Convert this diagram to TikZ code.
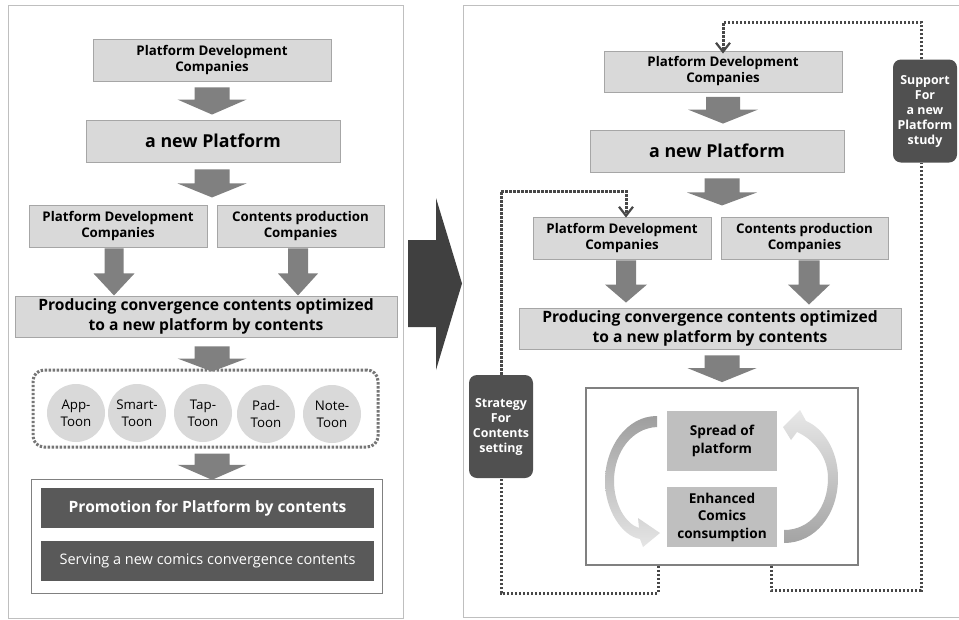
\documentclass[tikz,border=0pt]{standalone}
\usepackage{fontspec}
\setmainfont{Open Sans}
\usetikzlibrary{arrows.meta,calc}

\definecolor{boxfill}{HTML}{D9D9D9}
\definecolor{boxedge}{HTML}{A6A6A6}
\definecolor{arrowgray}{HTML}{808080}
\definecolor{darkfill}{HTML}{595959}
\definecolor{roundfill}{HTML}{505050}
\definecolor{bigarrow}{HTML}{404040}
\definecolor{dotgray}{HTML}{484848}
\definecolor{toongray}{HTML}{767676}
\definecolor{panelline}{HTML}{BFBFBF}
\definecolor{cyclefill}{HTML}{BFBFBF}
\definecolor{frameline}{HTML}{808080}

% block arrow pointing down: shaft half-width, head half-width, head length, from, to
\newcommand{\blockarr}[5]{%
  \fill[arrowgray] let \p1=#4, \p2=#5 in
    (\x1-#1pt,\y1) -- (\x1+#1pt,\y1) -- (\x1+#1pt,\y2+#3pt) -- (\x1+#2pt,\y2+#3pt)
    -- (\x1,\y2) -- (\x1-#2pt,\y2+#3pt) -- (\x1-#1pt,\y2+#3pt) -- cycle;}

\tikzset{
  graybox/.style={draw=boxedge, fill=boxfill, line width=0.9pt, inner sep=0pt, align=center,
    font=\fontsize{13.3}{16}\selectfont\bfseries},
  bigbox/.style={graybox, font=\fontsize{17.8}{20}\selectfont\bfseries},
  widebox/.style={graybox, font=\fontsize{15.6}{20}\selectfont\bfseries},
  darkbox/.style={fill=darkfill, text=white, inner sep=0pt, align=center,
    minimum width=333pt, minimum height=40pt},
  toon/.style={circle, fill=boxfill, minimum size=58pt, inner sep=0pt, align=center,
    font=\fontsize{13.3}{17}\selectfont},
  toonframe/.style={draw=toongray, line width=3pt, dash pattern=on 2.4pt off 1.6pt,
    rounded corners=11pt, inner sep=0pt},
  whiteframe/.style={draw=frameline, fill=white, inner sep=0pt},
  roundbox/.style={fill=roundfill, rounded corners=8pt, text=white, inner sep=0pt, align=center,
    minimum width=64pt, minimum height=103pt, font=\fontsize{12.4}{15}\selectfont\bfseries},
  cyclebox/.style={fill=cyclefill, inner sep=0pt, align=center, minimum width=110pt,
    minimum height=60pt, font=\fontsize{13.6}{17.5}\selectfont\bfseries},
  dotline/.style={draw=dotgray, line width=3pt, dash pattern=on 2.4pt off 1.6pt},
  barb/.style={-{Straight Barb[length=9pt,width=14pt,line width=2.2pt]}}
}

\begin{document}
\begin{tikzpicture}[x=1pt,y=-1pt]
\useasboundingbox (0,0) rectangle (959,619);
\fill[white] (0,0) rectangle (959,619);

% ---------- left panel ----------
\draw[panelline, line width=1pt] (8,5) rectangle (403,618);

\node[graybox, minimum width=238pt, minimum height=42pt] (l1) at (212,60) {Platform Development\\Companies};
\node[bigbox, minimum width=254pt, minimum height=42pt] (l2) at (213,141) {a new Platform};
\node[graybox, minimum width=178pt, minimum height=42pt] (l3) at (118,226) {Platform Development\\Companies};
\node[graybox, minimum width=167pt, minimum height=42pt] (l4) at (300.5,226) {Contents production\\Companies};
\node[widebox, minimum width=382pt, minimum height=41pt] (l5) at (206,316.5) {Producing convergence contents optimized\\to a new platform by contents};

\node[toonframe, minimum width=345pt, minimum height=77pt] (toons) at (205.5,408.5) {};
\node[toon] (t1) at (76,413) {App-\\Toon};
\node[toon] (t2) at (137,413) {Smart-\\Toon};
\node[toon] (t3) at (203,413) {Tap-\\Toon};
\node[toon] (t4) at (266,414) {Pad-\\Toon};
\node[toon] (t5) at (332,414) {Note-\\Toon};

\node[whiteframe, minimum width=351pt, minimum height=114pt] (lw) at (206.5,536) {};
\node[darkbox, font=\fontsize{15.6}{17}\selectfont\bfseries] (ld1) at (207.5,508) {Promotion for Platform by contents};
\node[darkbox, font=\fontsize{14.5}{16}\selectfont] (ld2) at (207.5,560.5) {Serving a new comics convergence contents};

\blockarr{17.5}{34.5}{15}{($(l1.south)+(0,6)$)}{($(l2.north)+(0,-5)$)}
\blockarr{17.5}{34.5}{14}{($(l2.south)+(-1,7)$)}{($(l2.south)+(-1,35)$)}
\blockarr{9.5}{20.5}{22}{($(l3.south)+(-4,1)$)}{($(l3.south)+(-4,48)$)}
\blockarr{10}{20}{22}{($(l4.south)+(-2.5,1)$)}{($(l4.south)+(-2.5,48)$)}
\blockarr{17.5}{34.5}{13}{($(l5.south)+(6,9)$)}{($(toons.north)+(6.5,3)$)}
\blockarr{17.5}{34.5}{15}{($(toons.south)+(6.5,5)$)}{($(lw.north)+(5.5,1)$)}

% ---------- central transition arrow ----------
\fill[bigarrow] (408,240) -- (436,240) -- (436,198) -- (462,283.5) -- (436,370) -- (436,327) -- (408,327) -- cycle;

% ---------- right panel ----------
\draw[panelline, line width=1pt] (463,617) -- (463,5) -- (965,5);
\draw[panelline, line width=1pt] (463,617) -- (965,617);

\node[graybox, minimum width=238pt, minimum height=41pt] (r1) at (723,71.5) {Platform Development\\Companies};
\node[bigbox, minimum width=254pt, minimum height=42pt] (r2) at (717,151) {a new Platform};
\node[graybox, minimum width=178pt, minimum height=42pt] (r3) at (622,238) {Platform Development\\Companies};
\node[graybox, minimum width=167pt, minimum height=42pt] (r4) at (804.5,238) {Contents production\\Companies};
\node[widebox, minimum width=382pt, minimum height=41pt] (r5) at (710,328.5) {Producing convergence contents optimized\\to a new platform by contents};

\node[whiteframe, line width=1.8pt, minimum width=272pt, minimum height=177pt] (rw) at (722,476.5) {};
\node[cyclebox] (spread) at (722,441) {Spread of\\platform};
\node[cyclebox] (enh) at (722,517) {Enhanced\\Comics\\consumption};

\node[roundbox] (sup) at (925,111) {Support\\For\\a new\\Platform\\study};
\node[roundbox] (strat) at (501,426.5) {Strategy\\For\\Contents\\setting};

\blockarr{17}{35}{14}{($(r1.south)+(0,4.5)$)}{($(r2.north)+(6,-6)$)}
\blockarr{17.5}{35}{13}{($(r2.south)+(5,6)$)}{($(r2.south)+(5,33)$)}
\blockarr{10}{21}{18}{($(r3.south)+(4,1)$)}{($(r5.north)+(-84,-5)$)}
\blockarr{10.5}{21}{20}{($(r4.south)+(4.5,1)$)}{($(r5.north)+(99,-3)$)}
\blockarr{17.5}{34.5}{14}{($(r5.south -| rw.north)+(0,6)$)}{($(rw.north)+(0,-5)$)}

% cycle arrows between the two inner boxes
\shade[top color=black!38, bottom color=black!10]
  (657,416) .. controls (626,416) and (605,448) .. (605,481)
  .. controls (605,510) and (622,536) .. (640,539)
  -- (643,547) -- (660,533) -- (638,518) -- (639,528)
  .. controls (626,524) and (614,505) .. (614,481)
  .. controls (614,452) and (632,428) .. (657,427) -- cycle;
\shade[top color=black!9, bottom color=black!36]
  (784,543) .. controls (815,543) and (838,515) .. (838,478)
  .. controls (838,450) and (823,428) .. (806,421)
  -- (800,410) -- (783,427) -- (791,440) -- (797,432)
  .. controls (815,440) and (828,458) .. (828,478)
  .. controls (828,508) and (810,530) .. (784,530) -- cycle;

% feedback loops
\draw[dotline, barb] ([xshift=-4pt]sup.north) -- ++(0,-37) -| ([yshift=-3pt]r1.north);
\draw[dotline] ([xshift=49pt]rw.south) |- (921,590) -- ([xshift=-4pt]sup.south);
\draw[dotline] ([xshift=-64pt]rw.south) |- (strat.south |- 0,593) -- (strat.south);
\draw[dotline, barb] (strat.north) |- (626,191) -- ([xshift=4pt,yshift=-1pt]r3.north);

\end{tikzpicture}
\end{document}
